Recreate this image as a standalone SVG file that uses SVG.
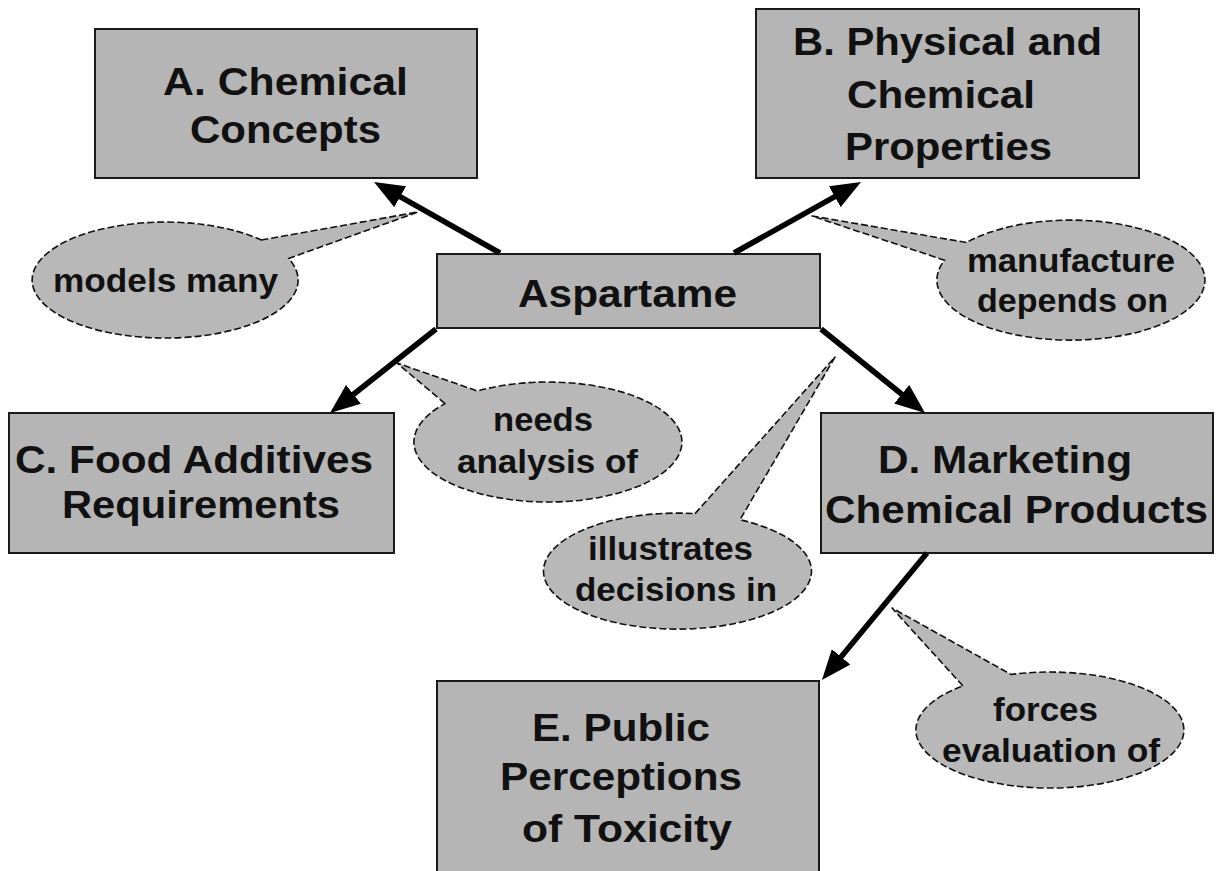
<svg xmlns="http://www.w3.org/2000/svg" width="1220" height="871" viewBox="0 0 1220 871">
<style>
  .box { fill: #b5b5b5; stroke: #1a1a1a; stroke-width: 2; }
  .call { fill: #b8b8b8; stroke: #111; stroke-width: 1.6; stroke-dasharray: 7 3; stroke-linejoin: round; }
  .bt { font-family: "Liberation Sans", Arial, sans-serif; font-weight: bold; font-size: 38px; fill: #111; text-anchor: middle; }
  .lt { font-family: "Liberation Sans", Arial, sans-serif; font-weight: bold; font-size: 34px; fill: #111; text-anchor: middle; }
  .conn { stroke: #000; stroke-width: 5.5; fill: none; marker-end: url(#head); }
</style>
<defs>
  <marker id="head" markerUnits="userSpaceOnUse" viewBox="0 0 30 24" markerWidth="30" markerHeight="24" refX="18" refY="12" orient="auto">
    <path d="M0,0 L30,12 L0,24 z" fill="#000"/>
  </marker>
</defs>
<rect width="1220" height="871" fill="#fff"/>

<g id="nodeA">
  <rect class="box" x="95" y="29" width="382" height="149"/>
  <text class="bt" x="285.5" y="95" textLength="245" lengthAdjust="spacingAndGlyphs">A. Chemical</text>
  <text class="bt" x="285.5" y="143" textLength="191" lengthAdjust="spacingAndGlyphs">Concepts</text>
</g>
<g id="nodeB">
  <rect class="box" x="756" y="9" width="383" height="169"/>
  <text class="bt" x="947.5" y="55" textLength="309" lengthAdjust="spacingAndGlyphs">B. Physical and</text>
  <text class="bt" x="941" y="108" textLength="188" lengthAdjust="spacingAndGlyphs">Chemical</text>
  <text class="bt" x="948.5" y="160" textLength="207" lengthAdjust="spacingAndGlyphs">Properties</text>
</g>
<g id="nodeAspartame">
  <rect class="box" x="437" y="254" width="383" height="74"/>
  <text class="bt" x="627.5" y="307" textLength="219" lengthAdjust="spacingAndGlyphs">Aspartame</text>
</g>
<g id="nodeC">
  <rect class="box" x="9" y="413" width="385" height="140"/>
  <text class="bt" x="194" y="473" textLength="358" lengthAdjust="spacingAndGlyphs">C. Food Additives</text>
  <text class="bt" x="201" y="518" textLength="278" lengthAdjust="spacingAndGlyphs">Requirements</text>
</g>
<g id="nodeD">
  <rect class="box" x="821" y="413" width="392" height="140"/>
  <text class="bt" x="1005" y="473" textLength="254" lengthAdjust="spacingAndGlyphs">D. Marketing</text>
  <text class="bt" x="1016.5" y="523" textLength="383" lengthAdjust="spacingAndGlyphs">Chemical Products</text>
</g>
<g id="nodeE">
  <rect class="box" x="437" y="681" width="382" height="200"/>
  <text class="bt" x="621" y="741" textLength="178" lengthAdjust="spacingAndGlyphs">E. Public</text>
  <text class="bt" x="621" y="790" textLength="242" lengthAdjust="spacingAndGlyphs">Perceptions</text>
  <text class="bt" x="627" y="842" textLength="210" lengthAdjust="spacingAndGlyphs">of Toxicity</text>
</g>

<g id="label-models-many">
  <path class="call" d="M261.3,240 L418,212 L288.6,258.5 A133,58 0 1 1 261.3,240 Z"/>
  <text class="lt" x="165.5" y="292" textLength="225" lengthAdjust="spacingAndGlyphs">models many</text>
</g>
<g id="label-manufacture">
  <path class="call" d="M966.5,242.5 L812,216 L944.5,260.2 A134,60 0 1 0 966.5,242.5 Z"/>
  <text class="lt" x="1071" y="272" textLength="208" lengthAdjust="spacingAndGlyphs">manufacture</text>
  <text class="lt" x="1072.5" y="312" textLength="191" lengthAdjust="spacingAndGlyphs">depends on</text>
</g>
<g id="label-needs">
  <path class="call" d="M445,403.6 L397,363 L477.4,391 A134,60 0 1 1 445,403.6 Z"/>
  <text class="lt" x="543" y="431" textLength="100" lengthAdjust="spacingAndGlyphs">needs</text>
  <text class="lt" x="547.5" y="473" textLength="181" lengthAdjust="spacingAndGlyphs">analysis of</text>
</g>
<g id="label-illustrates">
  <path class="call" d="M695,513.6 L835,357 L740,519.8 A134,58 0 1 1 695,513.6 Z"/>
  <text class="lt" x="670.5" y="560" textLength="165" lengthAdjust="spacingAndGlyphs">illustrates</text>
  <text class="lt" x="676" y="601" textLength="202" lengthAdjust="spacingAndGlyphs">decisions in</text>
</g>
<g id="label-forces">
  <path class="call" d="M962.9,685.9 L892,608 L1011.1,674.5 A134,58 0 1 1 962.9,685.9 Z"/>
  <text class="lt" x="1045.5" y="721" textLength="105" lengthAdjust="spacingAndGlyphs">forces</text>
  <text class="lt" x="1051" y="762" textLength="218" lengthAdjust="spacingAndGlyphs">evaluation of</text>
</g>

<g id="connectors">
  <line class="conn" x1="500" y1="253" x2="384.5" y2="187.9"/>
  <line class="conn" x1="734" y1="253" x2="850.5" y2="187.9"/>
  <line class="conn" x1="436" y1="329" x2="339.4" y2="405.5"/>
  <line class="conn" x1="821" y1="329" x2="915.7" y2="405.5"/>
  <line class="conn" x1="927" y1="553" x2="829.6" y2="670.7"/>
</g>
</svg>
